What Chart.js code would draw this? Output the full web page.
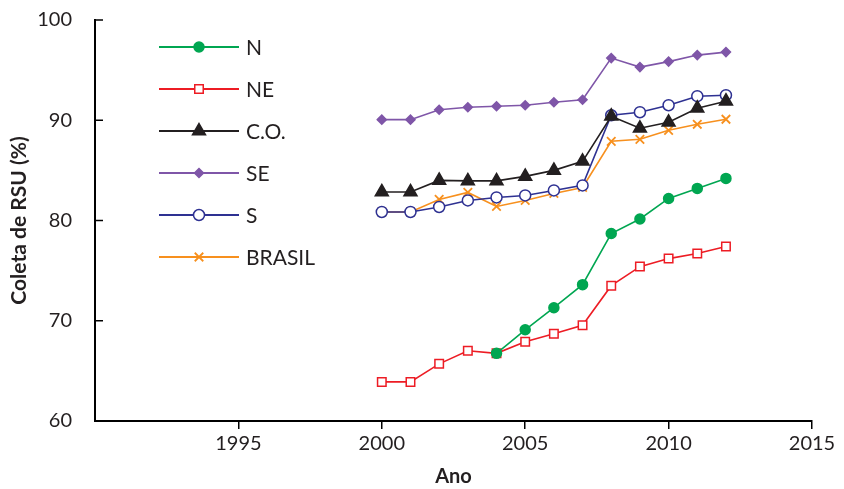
<!DOCTYPE html>
<html>
<head>
<meta charset="utf-8">
<script src="https://cdn.jsdelivr.net/npm/chart.js@4/dist/chart.umd.min.js"></script>
<style>
  html, body { margin: 0; padding: 0; background: #fff; }
  #wrap { width: 844px; height: 489px; }
</style>
</head>
<body>
<div id="wrap"><canvas id="rsuChart"></canvas></div>
<script>
// anos e valores
const years = [2000, 2001, 2002, 2003, 2004, 2005, 2006, 2007, 2008, 2009, 2010, 2011, 2012];
const nValues = [null, null, null, null, 66.75, 69.1, 71.3, 73.6, 78.7, 80.15, 82.2, 83.2, 84.2];
const neValues = [63.9, 63.9, 65.7, 67.0, 66.75, 67.9, 68.7, 69.55, 73.5, 75.4, 76.2, 76.7, 77.4];
const coValues = [82.85, 82.85, 84.0, 83.95, 83.95, 84.4, 85.0, 85.9, 90.4, 89.2, 89.8, 91.2, 91.9];
const seValues = [90.06, 90.06, 91.05, 91.3, 91.4, 91.5, 91.8, 92.05, 96.2, 95.3, 95.85, 96.5, 96.8];
const sValues = [80.85, 80.85, 81.35, 82.0, 82.3, 82.5, 83.0, 83.5, 90.5, 90.8, 91.5, 92.4, 92.5];
const brValues = [80.85, 80.85, 82.1, 82.8, 81.4, 82.0, 82.7, 83.3, 87.9, 88.1, 89.0, 89.6, 90.1];
const xTicks = [1990, 1995, 2000, 2005, 2010, 2015];
const yTicks = [60, 70, 80, 90, 100];

function pts(vals) {
  return years.map((y, i) => ({ x: y, y: vals[i] })).filter(p => p.y !== null);
}

const font = "Lato, 'Open Sans', sans-serif";

const series = [
  { label: "N", data: nValues, color: "#00a651", style: "circle", fill: "#00a651", r: 5 },
  { label: "NE", data: neValues, color: "#ed1c24", style: "rect", fill: "#ffffff", r: 6 },
  { label: "C.O.", data: coValues, color: "#231f20", style: "triangle", fill: "#231f20", r: 7.5 },
  { label: "SE", data: seValues, color: "#7f56a8", style: "rectRot", fill: "#7f56a8", r: 4.5 },
  { label: "S", data: sValues, color: "#2e3192", style: "circle", fill: "#ffffff", r: 5.5 },
  { label: "BRASIL", data: brValues, color: "#f7901e", style: "crossRot", fill: "#f7901e", r: 6 }
];

// legenda desenhada dentro da area
const insideLegend = {
  id: "insideLegend",
  afterDatasetsDraw(chart) {
    const ctx = chart.ctx;
    ctx.save();
    chart.data.datasets.forEach((ds, i) => {
      const y = 47 + i * 42;
      ctx.strokeStyle = ds.borderColor;
      ctx.lineWidth = 2;
      ctx.beginPath();
      ctx.moveTo(159, y);
      ctx.lineTo(239, y);
      ctx.stroke();
      ctx.fillStyle = ds.pointBackgroundColor;
      ctx.strokeStyle = ds.pointBorderColor;
      ctx.lineWidth = ds.pointBorderWidth;
      Chart.helpers.drawPoint(ctx, { pointStyle: ds.pointStyle, radius: ds.pointRadius, borderWidth: ds.pointBorderWidth, rotation: 0 }, 199, y);
      ctx.fillStyle = "#231f20";
      ctx.font = "21px " + font;
      ctx.textBaseline = "middle";
      ctx.textAlign = "left";
      ctx.fillText(ds.label, 246, y + 1);
    });
    ctx.restore();
  }
};

// marcas do eixo y para dentro
const innerTicks = {
  id: "innerTicks",
  afterDraw(chart) {
    const ctx = chart.ctx;
    const ys = chart.scales.y;
    const left = chart.chartArea.left;
    ctx.save();
    ctx.strokeStyle = "#000";
    ctx.lineWidth = 1.5;
    yTicks.forEach(v => {
      const py = ys.getPixelForValue(v);
      ctx.beginPath();
      ctx.moveTo(left, py);
      ctx.lineTo(left + 8, py);
      ctx.stroke();
    });
    ctx.restore();
  }
};

new Chart("rsuChart", {
  type: "line",
  data: {
    datasets: series.map(s => ({
      label: s.label,
      data: pts(s.data),
      borderColor: s.color,
      backgroundColor: s.color,
      borderWidth: 1.6,
      pointStyle: s.style,
      pointRadius: s.r,
      pointHoverRadius: s.r,
      pointBackgroundColor: s.fill,
      pointBorderColor: s.color,
      pointBorderWidth: s.style === "crossRot" ? 1.8 : 1.5,
      tension: 0
    }))
  },
  options: {
    responsive: true,
    maintainAspectRatio: false,
    animation: false,
    layout: { padding: { top: 20, right: 32, left: 0, bottom: 0 } },
    plugins: {
      legend: { display: false },
      tooltip: { enabled: false }
    },
    scales: {
      x: {
        type: "linear",
        min: 1990,
        max: 2015,
        afterBuildTicks: axis => { axis.ticks = xTicks.map(v => ({ value: v })); },
        afterFit: s => { s.height = 68; s.paddingLeft = 0; s.paddingRight = 0; },
        ticks: {
          color: "#231f20",
          font: { family: font, size: 20 },
          padding: 3,
          maxRotation: 0,
          callback: v => (v === 1990 ? "" : String(v))
        },
        grid: {
          drawOnChartArea: false,
          drawTicks: true,
          tickLength: 8,
          tickColor: ctx => (ctx.tick && ctx.tick.value === 1990 ? "rgba(0,0,0,0)" : "#000"),
          lineWidth: 1.5
        },
        border: { color: "#000", width: 2 },
        title: {
          display: true,
          text: "Ano",
          color: "#231f20",
          font: { family: font, size: 20, weight: "bold" },
          padding: { top: 0, bottom: 0 }
        }
      },
      y: {
        min: 60,
        max: 100,
        afterBuildTicks: axis => { axis.ticks = yTicks.map(v => ({ value: v })); },
        afterFit: s => { s.width = 95; s.paddingTop = 0; s.paddingBottom = 0; },
        ticks: {
          color: "#231f20",
          font: { family: font, size: 20 },
          padding: 23
        },
        grid: { drawOnChartArea: false, drawTicks: false },
        border: { color: "#000", width: 2 },
        title: {
          display: true,
          text: "Coleta de RSU (%)",
          color: "#231f20",
          font: { family: font, size: 21, weight: "bold" },
          padding: { top: 7, bottom: 0 }
        }
      }
    }
  },
  plugins: [insideLegend, innerTicks]
});
</script>
</body>
</html>
